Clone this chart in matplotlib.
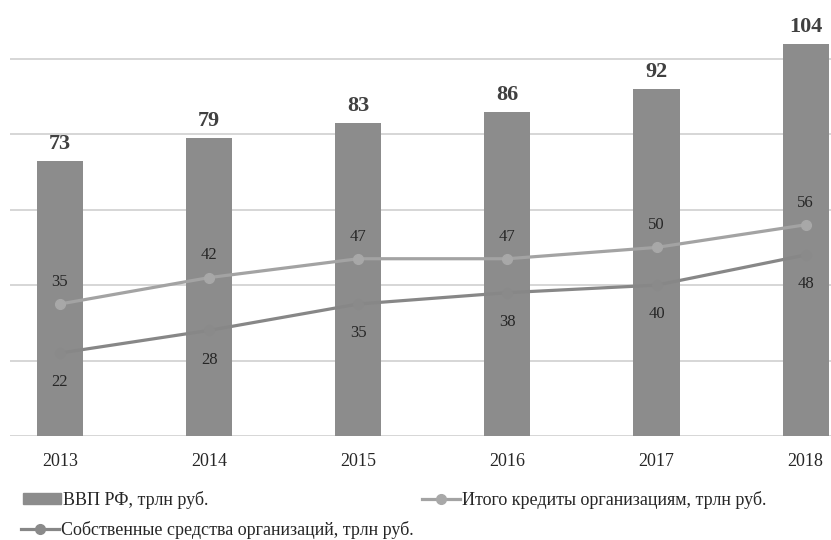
import matplotlib.pyplot as plt
from matplotlib.lines import Line2D
from matplotlib.patches import Patch

years = ['2013', '2014', '2015', '2016', '2017', '2018']
gdp = [73, 79, 83, 86, 92, 104]
credits = [35, 42, 47, 47, 50, 56]
own_funds = [22, 28, 35, 38, 40, 48]

gdp_label = 'ВВП РФ, трлн руб.'
credits_label = 'Итого кредиты организациям, трлн руб.'
own_label = 'Собственные средства организаций, трлн руб.'

plt.rcParams['font.family'] = ['Liberation Serif', 'DejaVu Serif']

bar_color = '#8c8c8c'
credits_color = '#a3a3a3'
own_color = '#878787'

fig = plt.figure(figsize=(8.31, 5.4), dpi=100)
ax = fig.add_axes([10 / 831, 104 / 540, 821 / 831, 436 / 540])

x = list(range(len(years)))
ax.bar(x, gdp, width=0.31, color=bar_color, zorder=2)
ax.plot(x, credits, color=credits_color, lw=2.3, marker='o', ms=7,
        markerfacecolor='#a8a8a8', markeredgecolor='#a8a8a8', zorder=3)
ax.plot(x, own_funds, color=own_color, lw=2.3, marker='o', ms=7,
        markerfacecolor='#8a8a8a', markeredgecolor='#8a8a8a', zorder=3)

for xi, v in zip(x, gdp):
    ax.annotate(str(v), (xi, v), xytext=(0, 5), textcoords='offset points',
                ha='center', va='bottom', fontsize=16, fontweight='bold', color='#404040')
for xi, v in zip(x, credits):
    ax.annotate(str(v), (xi, v), xytext=(0, 16), textcoords='offset points',
                ha='center', va='center', fontsize=12, color='#262626')
for xi, v in zip(x, own_funds):
    ax.annotate(str(v), (xi, v), xytext=(0, -21), textcoords='offset points',
                ha='center', va='center', fontsize=12, color='#262626')

ax.set_xlim(-0.335, 5.17)
ax.set_ylim(0, 115.6)
ax.set_yticks([0, 20, 40, 60, 80, 100])
ax.grid(axis='y', color='#d0d0d0', lw=1.2, zorder=0)
ax.set_axisbelow(True)
for s in ax.spines.values():
    s.set_visible(False)
ax.tick_params(axis='both', length=0)
ax.tick_params(axis='y', labelleft=False)
ax.set_xticks(x)
ax.set_xticklabels(years, fontsize=13, color='#262626')
ax.tick_params(axis='x', pad=12)

h_gdp = Patch(color=bar_color)
h_credits = Line2D([], [], color=credits_color, lw=2.3, marker='o', ms=7,
                   markerfacecolor='#a8a8a8', markeredgecolor='#a8a8a8')
h_own = Line2D([], [], color=own_color, lw=2.3, marker='o', ms=7,
               markerfacecolor='#8a8a8a', markeredgecolor='#8a8a8a')

leg_kw = dict(frameon=False, fontsize=13, handlelength=2.1, handleheight=0.55,
              handletextpad=0.1, borderaxespad=0, borderpad=0, labelcolor='#262626',
              loc='center left')
fig.legend([h_gdp], [gdp_label], bbox_to_anchor=(23 / 831, 1 - 500 / 540), **leg_kw)
fig.legend([h_credits], [credits_label], bbox_to_anchor=(422 / 831, 1 - 500 / 540), **leg_kw)
fig.legend([h_own], [own_label], bbox_to_anchor=(21 / 831, 1 - 530 / 540), **leg_kw)

fig.savefig('out.png', dpi=100)
